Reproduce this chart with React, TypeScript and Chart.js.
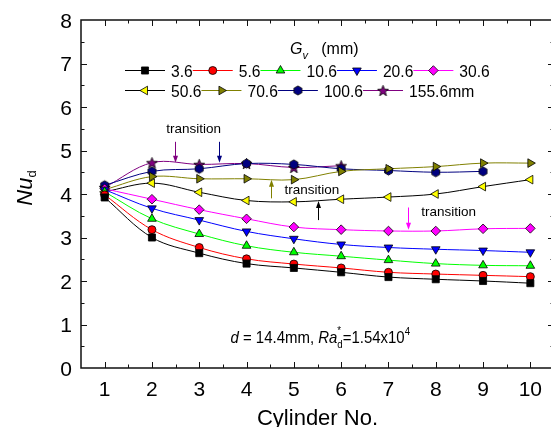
import React, { useEffect, useRef } from "react";
import { Chart, registerables } from "chart.js";
import { drawPoint } from "chart.js/helpers";

Chart.register(...registerables);

const FONT = '"Liberation Sans", Arial, Helvetica, sans-serif';

// Cylinder index along the column
const cylinderNo = [1, 2, 3, 4, 5, 6, 7, 8, 9, 10];
const nuTicks = [0, 1, 2, 3, 4, 5, 6, 7, 8];

// Local Nusselt number Nu_d of each cylinder, one array per vertical gap G_v
const nuGap3_6 = [3.92, 3.0, 2.64, 2.4, 2.3, 2.2, 2.09, 2.04, 2.0, 1.95];
const nuGap5_6 = [3.98, 3.18, 2.77, 2.51, 2.39, 2.3, 2.2, 2.16, 2.13, 2.1];
const nuGap10_6 = [4.05, 3.43, 3.08, 2.81, 2.66, 2.57, 2.48, 2.4, 2.36, 2.35];
const nuGap20_6 = [4.1, 3.67, 3.4, 3.14, 2.97, 2.84, 2.77, 2.73, 2.7, 2.66];
const nuGap30_6 = [4.12, 3.88, 3.64, 3.43, 3.24, 3.18, 3.15, 3.15, 3.2, 3.21];
const nuGap50_6 = [4.05, 4.25, 4.04, 3.85, 3.82, 3.88, 3.93, 4.0, 4.17, 4.33];
const nuGap70_6 = [4.1, 4.4, 4.35, 4.35, 4.33, 4.52, 4.58, 4.63, 4.71, 4.71];
const nuGap100_6 = [4.2, 4.52, 4.58, 4.7, 4.68, 4.58, 4.54, 4.5, 4.52];
const nuGap155_6 = [4.15, 4.72, 4.68, 4.7, 4.61, 4.65];

const gapLabels = ["3.6", "5.6", "10.6", "20.6", "30.6", "50.6", "70.6", "100.6", "155.6mm"];
const gapSeries = [nuGap3_6, nuGap5_6, nuGap10_6, nuGap20_6, nuGap30_6, nuGap50_6, nuGap70_6, nuGap100_6, nuGap155_6];

// "transition" arrows (x in cylinder units, from/to in Nu_d)
const transitionArrows = [
  { x: 2.48, from: 5.2, to: 4.72, color: "#800080" },
  { x: 3.41, from: 5.2, to: 4.72, color: "#000080" },
  { x: 4.51, from: 3.9, to: 4.33, color: "#808000" },
  { x: 5.52, from: 3.4, to: 3.84, color: "#000000" },
  { x: 7.41, from: 3.69, to: 3.18, color: "#ff00ff" },
];
const transitionLabels = [
  { x: 2.88, y: 5.4 },
  { x: 5.38, y: 3.99 },
  { x: 8.27, y: 3.49 },
];

type Run = { t: string; size: number; italic?: boolean; dy?: number; stack?: boolean };

function fontOf(r: Run) {
  return `${r.italic ? "italic " : ""}${r.size}px ${FONT}`;
}

function drawRuns(
  ctx: CanvasRenderingContext2D,
  runs: Run[],
  x: number,
  y: number,
  align: "left" | "center" | "right",
  sx = 1
) {
  let pos = 0;
  let prevStart = 0;
  const items: { r: Run; start: number }[] = [];
  for (const r of runs) {
    ctx.font = fontOf(r);
    const w = ctx.measureText(r.t).width;
    const start = r.stack ? prevStart : pos;
    pos = Math.max(pos, start + w);
    items.push({ r, start });
    prevStart = start;
  }
  const off = align === "left" ? 0 : align === "center" ? -pos / 2 : -pos;
  ctx.save();
  ctx.translate(x, y);
  ctx.scale(sx, 1);
  ctx.textAlign = "left";
  ctx.textBaseline = "alphabetic";
  ctx.fillStyle = "#000";
  for (const it of items) {
    ctx.font = fontOf(it.r);
    ctx.fillText(it.r.t, off + it.start, it.r.dy || 0);
  }
  ctx.restore();
}

function makeMarker(size: number, paint: (ctx: CanvasRenderingContext2D, c: number) => void) {
  const cv = document.createElement("canvas");
  cv.width = size;
  cv.height = size;
  const ctx = cv.getContext("2d")!;
  paint(ctx, size / 2);
  return cv;
}

export default function App() {
  const ref = useRef<HTMLCanvasElement>(null);

  useEffect(() => {
    const canvas = ref.current!;

    const hexagon = makeMarker(13, (ctx, c) => {
      ctx.beginPath();
      for (let i = 0; i < 6; i++) {
        const a = (Math.PI / 3) * i - Math.PI / 2;
        const px = c + Math.cos(a) * 4.6;
        const py = c + Math.sin(a) * 4.6;
        if (i === 0) ctx.moveTo(px, py);
        else ctx.lineTo(px, py);
      }
      ctx.closePath();
      ctx.fillStyle = "#000080";
      ctx.fill();
      ctx.lineWidth = 0.8;
      ctx.strokeStyle = "#000";
      ctx.stroke();
    });

    const star = makeMarker(15, (ctx, c) => {
      ctx.beginPath();
      for (let i = 0; i < 10; i++) {
        const a = (Math.PI / 5) * i - Math.PI / 2;
        const rr = i % 2 === 0 ? 5.8 : 2.4;
        const px = c + Math.cos(a) * rr;
        const py = c + 0.6 + Math.sin(a) * rr;
        if (i === 0) ctx.moveTo(px, py);
        else ctx.lineTo(px, py);
      }
      ctx.closePath();
      ctx.fillStyle = "#800080";
      ctx.fill();
      ctx.lineWidth = 0.8;
      ctx.strokeStyle = "#000";
      ctx.stroke();
    });

    const styles: { line: string; fill: string; marker: any; radius: number; rotation: number }[] = [
      { line: "#000000", fill: "#000000", marker: "rect", radius: 5, rotation: 0 },
      { line: "#ff0000", fill: "#ff0000", marker: "circle", radius: 4, rotation: 0 },
      { line: "#00ff00", fill: "#00ff00", marker: "triangle", radius: 5, rotation: 0 },
      { line: "#0000ff", fill: "#0000ff", marker: "triangle", radius: 5, rotation: 180 },
      { line: "#ff00ff", fill: "#ff00ff", marker: "rectRot", radius: 4.8, rotation: 0 },
      { line: "#000000", fill: "#ffff00", marker: "triangle", radius: 5, rotation: -90 },
      { line: "#808000", fill: "#808000", marker: "triangle", radius: 5, rotation: 90 },
      { line: "#000080", fill: "#000080", marker: hexagon, radius: 5, rotation: 0 },
      { line: "#800080", fill: "#800080", marker: star, radius: 5, rotation: 0 },
    ];

    const datasets = gapSeries.map((vals, i) => ({
      label: gapLabels[i],
      data: vals.map((v, k) => ({ x: cylinderNo[k], y: v })),
      borderColor: styles[i].line,
      backgroundColor: styles[i].fill,
      borderWidth: 1,
      tension: 0.35,
      pointStyle: styles[i].marker,
      pointRadius: styles[i].radius,
      pointRotation: styles[i].rotation,
      pointBackgroundColor: styles[i].fill,
      pointBorderColor: "#000",
      pointBorderWidth: 0.8,
    }));

    // Axes frame with inward major/minor ticks on all four sides
    const framePlugin = {
      id: "frame",
      afterDatasetsDraw(chart: any) {
        const { ctx, chartArea: a, scales } = chart;
        const xs = scales.x;
        const ys = scales.y;
        ctx.save();
        ctx.strokeStyle = "#111";
        ctx.lineWidth = 1.5;
        ctx.beginPath();
        ctx.rect(a.left, a.top, a.right - a.left, a.bottom - a.top);
        ctx.stroke();
        ctx.lineWidth = 1;
        ctx.beginPath();
        for (let v = 1; v <= 10.5; v += 0.5) {
          const px = Math.round(xs.getPixelForValue(v)) + 0.5;
          const len = Number.isInteger(v) ? 6 : 3.5;
          ctx.moveTo(px, a.bottom);
          ctx.lineTo(px, a.bottom - len);
          ctx.moveTo(px, a.top);
          ctx.lineTo(px, a.top + len);
        }
        for (let v = 0.5; v < 8; v += 0.5) {
          const py = Math.round(ys.getPixelForValue(v)) + 0.5;
          const len = Number.isInteger(v) ? 6 : 3.5;
          ctx.moveTo(a.left, py);
          ctx.lineTo(a.left + len, py);
          ctx.moveTo(a.right, py);
          ctx.lineTo(a.right - len, py);
        }
        ctx.stroke();
        ctx.restore();
      },
      afterDraw(chart: any) {
        const { ctx, chartArea: a, scales } = chart;
        const xs = scales.x;
        const ys = scales.y;

        // tick labels
        for (const v of cylinderNo) {
          drawRuns(ctx, [{ t: String(v), size: 21 }], xs.getPixelForValue(v), a.bottom + 27.5, "center");
        }
        for (const v of nuTicks) {
          drawRuns(ctx, [{ t: String(v), size: 21 }], a.left - 9, ys.getPixelForValue(v) + 7.5, "right");
        }

        // axis titles
        drawRuns(ctx, [{ t: "Cylinder No.", size: 22 }], (a.left + a.right) / 2, 425, "center");
        ctx.save();
        ctx.translate(32, 188);
        ctx.rotate(-Math.PI / 2);
        drawRuns(
          ctx,
          [
            { t: "Nu", size: 22, italic: true },
            { t: "d", size: 13, dy: 4 },
          ],
          0,
          0,
          "center"
        );
        ctx.restore();

        // transition arrows and notes
        ctx.save();
        for (const ar of transitionArrows) {
          const px = Math.round(xs.getPixelForValue(ar.x)) + 0.5;
          const y1 = ys.getPixelForValue(ar.from);
          const y2 = ys.getPixelForValue(ar.to);
          const dir = y2 > y1 ? 1 : -1;
          ctx.strokeStyle = ar.color;
          ctx.fillStyle = ar.color;
          ctx.lineWidth = 1;
          ctx.beginPath();
          ctx.moveTo(px, y1);
          ctx.lineTo(px, y2 - dir * 5);
          ctx.stroke();
          ctx.beginPath();
          ctx.moveTo(px, y2);
          ctx.lineTo(px - 2.5, y2 - dir * 7);
          ctx.lineTo(px + 2.5, y2 - dir * 7);
          ctx.closePath();
          ctx.fill();
        }
        ctx.restore();
        for (const n of transitionLabels) {
          drawRuns(ctx, [{ t: "transition", size: 13.5 }], xs.getPixelForValue(n.x), ys.getPixelForValue(n.y), "center");
        }

        // experimental condition
        drawRuns(
          ctx,
          [
            { t: "d", size: 17, italic: true },
            { t: " = 14.4mm, ", size: 17 },
            { t: "Ra", size: 17, italic: true },
            { t: "d", size: 11, dy: 5 },
            { t: "*", size: 11, dy: -9, stack: true },
            { t: "=1.54x10", size: 17 },
            { t: "4", size: 11, dy: -8 },
          ],
          xs.getPixelForValue(3.66),
          ys.getPixelForValue(0.58),
          "left",
          0.88
        );

        // legend
        drawRuns(
          ctx,
          [
            { t: "G", size: 16, italic: true },
            { t: "v", size: 11, italic: true, dy: 5 },
            { t: "   (mm)", size: 16 },
          ],
          290,
          54,
          "left"
        );
        const rows = [
          [0, 1, 2, 3, 4],
          [5, 6, 7, 8],
        ];
        const rowY = [70, 90];
        const seg = 40;
        const sx = 0.92;
        rows.forEach((row, ri) => {
          let x = 125;
          const y = rowY[ri];
          for (const i of row) {
            const st = styles[i];
            ctx.save();
            ctx.strokeStyle = st.line;
            ctx.lineWidth = 1;
            ctx.beginPath();
            ctx.moveTo(x, y + 0.5);
            ctx.lineTo(x + seg, y + 0.5);
            ctx.stroke();
            ctx.fillStyle = st.fill;
            ctx.strokeStyle = "#000";
            ctx.lineWidth = 0.8;
            drawPoint(ctx, { pointStyle: st.marker, rotation: st.rotation, radius: st.radius, borderWidth: 0.8 } as any, x + seg / 2, y + 0.5);
            ctx.restore();
            const tx = x + seg + 6;
            drawRuns(ctx, [{ t: gapLabels[i], size: 17 }], tx, y + 6.7, "left", sx);
            ctx.font = `17px ${FONT}`;
            x = tx + ctx.measureText(gapLabels[i]).width * sx;
          }
        });
      },
    };

    const chart = new Chart(canvas, {
      type: "line",
      data: { datasets } as any,
      options: {
        animation: false,
        responsive: false,
        devicePixelRatio: 1,
        layout: { padding: { top: 20, right: 6, left: 0, bottom: 0 } },
        plugins: { legend: { display: false }, tooltip: { enabled: false } },
        scales: {
          x: {
            type: "linear",
            min: 0.5,
            max: 10.5,
            grid: { display: false, drawTicks: false },
            border: { display: false },
            ticks: { display: false },
            afterBuildTicks: (s: any) => {
              s.ticks = cylinderNo.map((v) => ({ value: v }));
            },
            afterFit: (s: any) => {
              s.height = 59;
            },
          },
          y: {
            type: "linear",
            min: 0,
            max: 8,
            grid: { display: false, drawTicks: false },
            border: { display: false },
            ticks: { display: false, stepSize: 1 },
            afterFit: (s: any) => {
              s.width = 81;
            },
          },
        },
      } as any,
      plugins: [framePlugin],
    });

    return () => chart.destroy();
  }, []);

  return (
    <div
      style={{
        position: "fixed",
        left: 0,
        top: 0,
        width: 551,
        height: 427,
        overflow: "hidden",
        background: "#fff",
      }}
    >
      <canvas ref={ref} width={560} height={427} style={{ display: "block" }} />
    </div>
  );
}
